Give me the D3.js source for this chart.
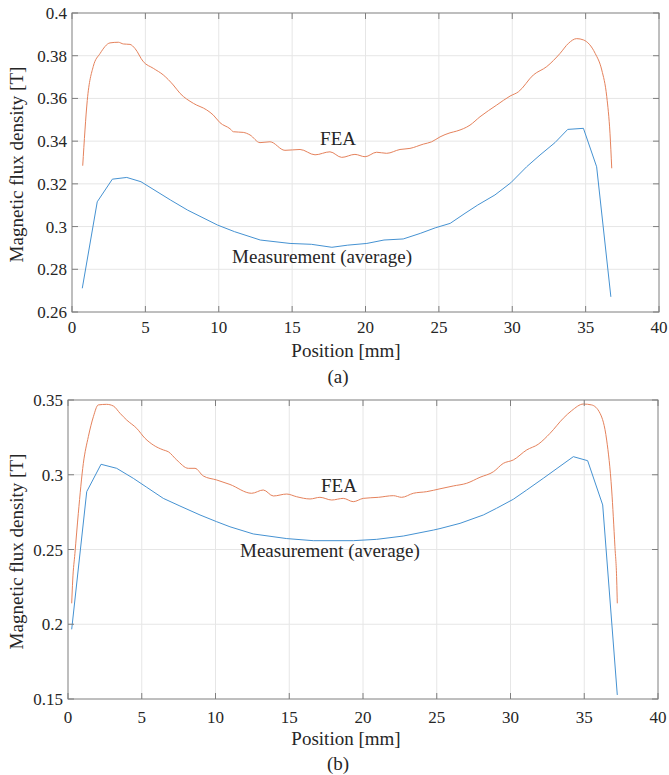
<!DOCTYPE html>
<html>
<head>
<meta charset="utf-8">
<script src="https://cdn.jsdelivr.net/npm/d3@7"></script>
<style>
  body { margin: 0; background: #fff; }
  svg text { font-family: "Liberation Serif", "Times New Roman", serif; fill: #262626; }
</style>
</head>
<body>
<script>
// shared x axis
var xTicks = [0, 5, 10, 15, 20, 25, 30, 35, 40];

// panel (a)
var yTicksA = [0.26, 0.28, 0.3, 0.32, 0.34, 0.36, 0.38, 0.4];
var feaAx = [0.73, 1.04, 1.45, 1.91, 2.59, 3.16, 3.5, 3.95, 4.29, 4.86, 5.54, 6.22, 6.9, 7.36, 8.27, 9.18, 9.63, 10.09, 10.77, 11.0, 11.67, 12.13, 12.81, 13.49, 14.51, 15.54, 16.56, 17.58, 18.38, 19.28, 19.97, 20.76, 21.44, 22.35, 23.03, 23.94, 24.51, 25.08, 25.76, 26.21, 27.12, 27.8, 28.94, 29.85, 30.42, 31.44, 32.35, 33.26, 33.83, 34.39, 34.85, 35.65, 36.1, 36.44, 36.66, 36.78];
var feaAy = [0.3285, 0.359, 0.375, 0.381, 0.386, 0.3863, 0.3855, 0.3853, 0.3834, 0.3772, 0.3741, 0.371, 0.3663, 0.3624, 0.3577, 0.3546, 0.3522, 0.3486, 0.3458, 0.3444, 0.3441, 0.3429, 0.3393, 0.3397, 0.3357, 0.3361, 0.3336, 0.335, 0.3324, 0.3338, 0.3327, 0.3348, 0.3343, 0.3361, 0.3366, 0.3386, 0.3397, 0.342, 0.3439, 0.3447, 0.3475, 0.3514, 0.3569, 0.3611, 0.3631, 0.371, 0.3749, 0.3811, 0.3858, 0.388, 0.3874, 0.3811, 0.3733, 0.3608, 0.3437, 0.3273];
var measAx = [0.7, 1.72, 2.75, 3.73, 4.7, 6.72, 7.88, 9.92, 11.08, 12.83, 14.86, 16.31, 17.71, 18.79, 20.09, 21.26, 22.57, 23.73, 24.75, 25.77, 26.78, 27.65, 28.82, 29.9, 30.98, 31.89, 32.91, 33.78, 34.85, 35.75, 36.72];
var measAy = [0.2711, 0.3116, 0.3222, 0.323, 0.321, 0.3124, 0.3077, 0.3007, 0.2976, 0.2937, 0.2921, 0.2917, 0.2903, 0.2913, 0.2921, 0.2937, 0.2942, 0.2968, 0.2994, 0.3015, 0.3062, 0.3101, 0.3148, 0.3205, 0.328, 0.3335, 0.3393, 0.3455, 0.346, 0.328, 0.2671];

// panel (b)
var yTicksB = [0.15, 0.2, 0.25, 0.3, 0.35];
var feaBx = [0.25, 0.32, 0.47, 0.7, 1.04, 1.38, 1.72, 2.05, 2.62, 3.07, 3.53, 3.98, 4.66, 5.22, 5.78, 6.46, 6.8, 7.37, 8.16, 8.61, 9.17, 10.08, 10.98, 12.45, 13.24, 13.92, 14.83, 15.5, 16.41, 17.08, 17.88, 18.66, 19.34, 20.02, 21.04, 22.06, 22.62, 23.41, 24.32, 25.22, 26.12, 27.03, 27.93, 28.84, 29.51, 30.19, 31.1, 31.88, 32.68, 33.58, 34.15, 34.94, 35.5, 36.07, 36.52, 36.86, 37.08, 37.2, 37.24];
var feaBy = [0.214, 0.2296, 0.2474, 0.2742, 0.3076, 0.3255, 0.3388, 0.3467, 0.3471, 0.346, 0.3411, 0.3366, 0.331, 0.3244, 0.3199, 0.3166, 0.3154, 0.3099, 0.3043, 0.3043, 0.2992, 0.2965, 0.2935, 0.2876, 0.2898, 0.2858, 0.2871, 0.2853, 0.2838, 0.2849, 0.2831, 0.2842, 0.282, 0.2842, 0.2849, 0.286, 0.2849, 0.2876, 0.2887, 0.2906, 0.2925, 0.2943, 0.2983, 0.302, 0.3076, 0.3099, 0.3166, 0.3204, 0.3277, 0.3378, 0.3429, 0.3473, 0.3467, 0.3411, 0.3232, 0.2898, 0.2519, 0.2296, 0.214];
var measBx = [0.25, 1.27, 2.24, 3.3, 4.43, 5.34, 6.46, 7.59, 8.95, 10.08, 10.98, 12.56, 14.83, 16.63, 19.34, 20.93, 22.73, 24.77, 25.22, 26.58, 28.16, 29.06, 30.19, 31.1, 32.22, 34.26, 35.23, 36.25, 37.24];
var measBy = [0.1966, 0.2887, 0.307, 0.3043, 0.2976, 0.2916, 0.2842, 0.2791, 0.2731, 0.2686, 0.2652, 0.2604, 0.2573, 0.2559, 0.2559, 0.2568, 0.259, 0.263, 0.264, 0.2675, 0.2731, 0.2776, 0.2836, 0.2898, 0.2976, 0.3121, 0.3094, 0.2798, 0.1527];

var svg = d3.select('body')
  .append('svg')
  .attr('width', 669)
  .attr('height', 775)
  .style('font-family', '"Liberation Serif", "Times New Roman", serif');

var orange = '#e5825c';
var blue = '#4592d2';
var serif = '"Liberation Serif", "Times New Roman", serif';

function zip(xs, ys) {
  return xs.map(function(x, i) { return [x, ys[i]]; });
}

function label(g, x, y, size, str) {
  return g.append('text')
    .attr('x', x)
    .attr('y', y)
    .attr('text-anchor', 'middle')
    .style('font-family', serif)
    .style('font-size', size + 'px')
    .text(str);
}

function drawPanel(p) {
  var x = d3.scaleLinear().domain([0, 40]).range([p.left, p.right]);
  var y = d3.scaleLinear().domain(p.yDomain).range([p.bottom, p.top]);
  var g = svg.append('g');

  // grid
  g.selectAll('.gx').data(xTicks.slice(1, -1)).enter()
    .append('line')
    .attr('x1', function(d) { return x(d); })
    .attr('x2', function(d) { return x(d); })
    .attr('y1', p.top).attr('y2', p.bottom)
    .style('stroke', '#e6e6e6');
  g.selectAll('.gy').data(p.yTicks.slice(1, -1)).enter()
    .append('line')
    .attr('y1', function(d) { return y(d); })
    .attr('y2', function(d) { return y(d); })
    .attr('x1', p.left).attr('x2', p.right)
    .style('stroke', '#e6e6e6');

  // data lines
  var line = d3.line()
    .x(function(d) { return x(d[0]); })
    .y(function(d) { return y(d[1]); });

  g.append('path')
    .datum(zip(p.feaX, p.feaY))
    .attr('d', line.curve(d3.curveMonotoneX))
    .style('fill', 'none')
    .style('stroke', orange)
    .style('stroke-width', 1);

  g.append('path')
    .datum(zip(p.measX, p.measY))
    .attr('d', line.curve(d3.curveLinear))
    .style('fill', 'none')
    .style('stroke', blue)
    .style('stroke-width', 1);

  // axes, ticks inward on all four sides
  var tk = 6;
  var ax = g.append('g').style('stroke', '#7f7f7f').style('stroke-width', 1);
  ax.append('rect')
    .attr('x', p.left).attr('y', p.top)
    .attr('width', p.right - p.left).attr('height', p.bottom - p.top)
    .style('fill', 'none');
  xTicks.forEach(function(d) {
    ax.append('line').attr('x1', x(d)).attr('x2', x(d)).attr('y1', p.bottom).attr('y2', p.bottom - tk);
    ax.append('line').attr('x1', x(d)).attr('x2', x(d)).attr('y1', p.top).attr('y2', p.top + tk);
  });
  p.yTicks.forEach(function(d) {
    ax.append('line').attr('y1', y(d)).attr('y2', y(d)).attr('x1', p.left).attr('x2', p.left + tk);
    ax.append('line').attr('y1', y(d)).attr('y2', y(d)).attr('x1', p.right).attr('x2', p.right - tk);
  });

  // tick labels
  xTicks.forEach(function(d) {
    label(g, x(d), p.xTickY, 17, d);
  });
  p.yTicks.forEach(function(d) {
    label(g, p.left - 5, y(d) + 6, 17, String(d)).attr('text-anchor', 'end');
  });

  // axis labels and caption
  label(g, 346, p.xLabelY, 19, 'Position [mm]');
  label(g, 0, 0, 19, 'Magnetic flux density [T]')
    .attr('transform', 'translate(23,' + ((p.top + p.bottom) / 2 + 2) + ') rotate(-90)');
  label(g, 338, p.capY, 19, p.caption);

  // curve labels
  label(g, x(p.feaLabel[0]), y(p.feaLabel[1]), 19, 'FEA');
  label(g, x(p.measLabel[0]), y(p.measLabel[1]), 19, 'Measurement (average)');
}

drawPanel({
  left: 72, right: 659, top: 13, bottom: 312,
  yDomain: [0.26, 0.4], yTicks: yTicksA,
  feaX: feaAx, feaY: feaAy, measX: measAx, measY: measAy,
  feaLabel: [18.13, 0.3382], measLabel: [17.04, 0.2829],
  xTickY: 333, xLabelY: 357, capY: 383, caption: '(a)'
});

drawPanel({
  left: 68, right: 658, top: 400, bottom: 699,
  yDomain: [0.15, 0.35], yTicks: yTicksB,
  feaX: feaBx, feaY: feaBy, measX: measBx, measY: measBy,
  feaLabel: [18.37, 0.2885], measLabel: [17.76, 0.245],
  xTickY: 723, xLabelY: 745, capY: 770, caption: '(b)'
});
</script>
</body>
</html>
